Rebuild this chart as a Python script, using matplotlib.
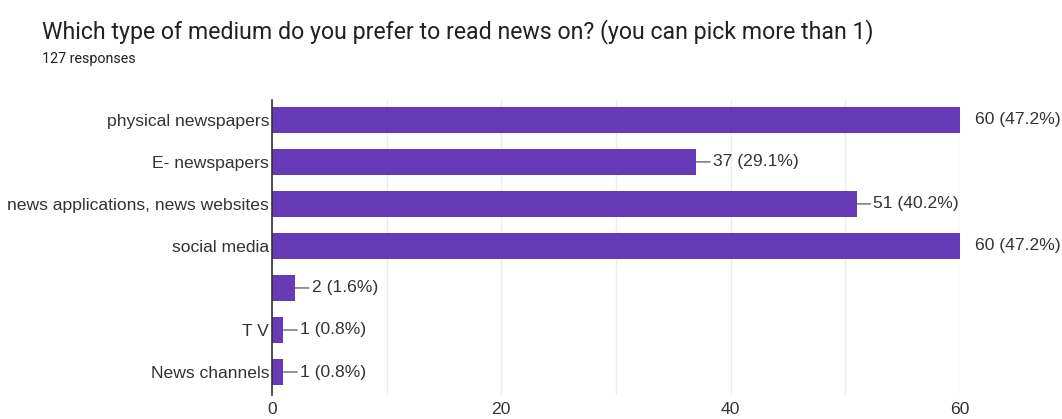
import matplotlib.pyplot as plt

plt.rcParams['font.family'] = ['Liberation Sans', 'DejaVu Sans']

categories = ['physical newspapers', 'E- newspapers', 'news applications, news websites',
              'social media', '', 'T V', 'News channels']
counts = [60, 37, 51, 60, 2, 1, 1]
percents = [47.2, 29.1, 40.2, 47.2, 1.6, 0.8, 0.8]
x_ticks = [0, 20, 40, 60]

bar_color = '#673ab7'
text_color = '#333333'
label_size = 12.6

fig = plt.figure(figsize=(10.62, 4.19), dpi=100)
ax = fig.add_axes([0.2561, 0.057, 0.6478, 0.705])

ypos = list(range(len(categories)))
ax.barh(ypos, counts, height=0.62, color=bar_color, zorder=3)

ax.set_xlim(0, 60)
ax.set_ylim(6.55, -0.48)
ax.set_yticks(ypos)
ax.set_yticklabels(categories, fontsize=label_size, color=text_color)
ax.set_xticks(x_ticks)
ax.set_xticklabels([str(t) for t in x_ticks], fontsize=label_size, color=text_color)
ax.set_xticks(range(0, 61, 10), minor=True)
ax.tick_params(axis='both', which='both', length=0, pad=2)
ax.tick_params(axis='x', pad=5)
ax.grid(True, axis='x', which='both', color='#ececec', linewidth=1, zorder=0)

for side in ['top', 'right', 'bottom']:
    ax.spines[side].set_visible(False)
ax.spines['left'].set_color('#333333')
ax.spines['left'].set_linewidth(1.2)
ax.spines['left'].set_zorder(4)

# value labels: leader line for bars that end inside the plot
for y, c, p in zip(ypos, counts, percents):
    label = f'{c} ({p}%)'
    if c < max(counts):
        ax.annotate(label, xy=(c, y), xytext=(12, 0), textcoords='offset points',
                    ha='left', va='center', fontsize=label_size, color=text_color,
                    arrowprops=dict(arrowstyle='-', color='#555555', lw=0.9,
                                    shrinkA=0, shrinkB=0))
    else:
        ax.annotate(label, xy=(c, y), xytext=(11, 0), textcoords='offset points',
                    ha='left', va='center', fontsize=label_size, color=text_color,
                    annotation_clip=False)

fig.text(0.0395, 0.925, 'Which type of medium do you prefer to read news on? (you can pick more than 1)',
         fontsize=16.65, color='#212121', ha='left', va='center', family=['Roboto', 'DejaVu Sans'])
fig.text(0.0395, 0.858, '127 responses', fontsize=10.3, color='#212121', ha='left', va='center',
         family=['Roboto', 'DejaVu Sans'])

fig.savefig('out.png', dpi=100)
